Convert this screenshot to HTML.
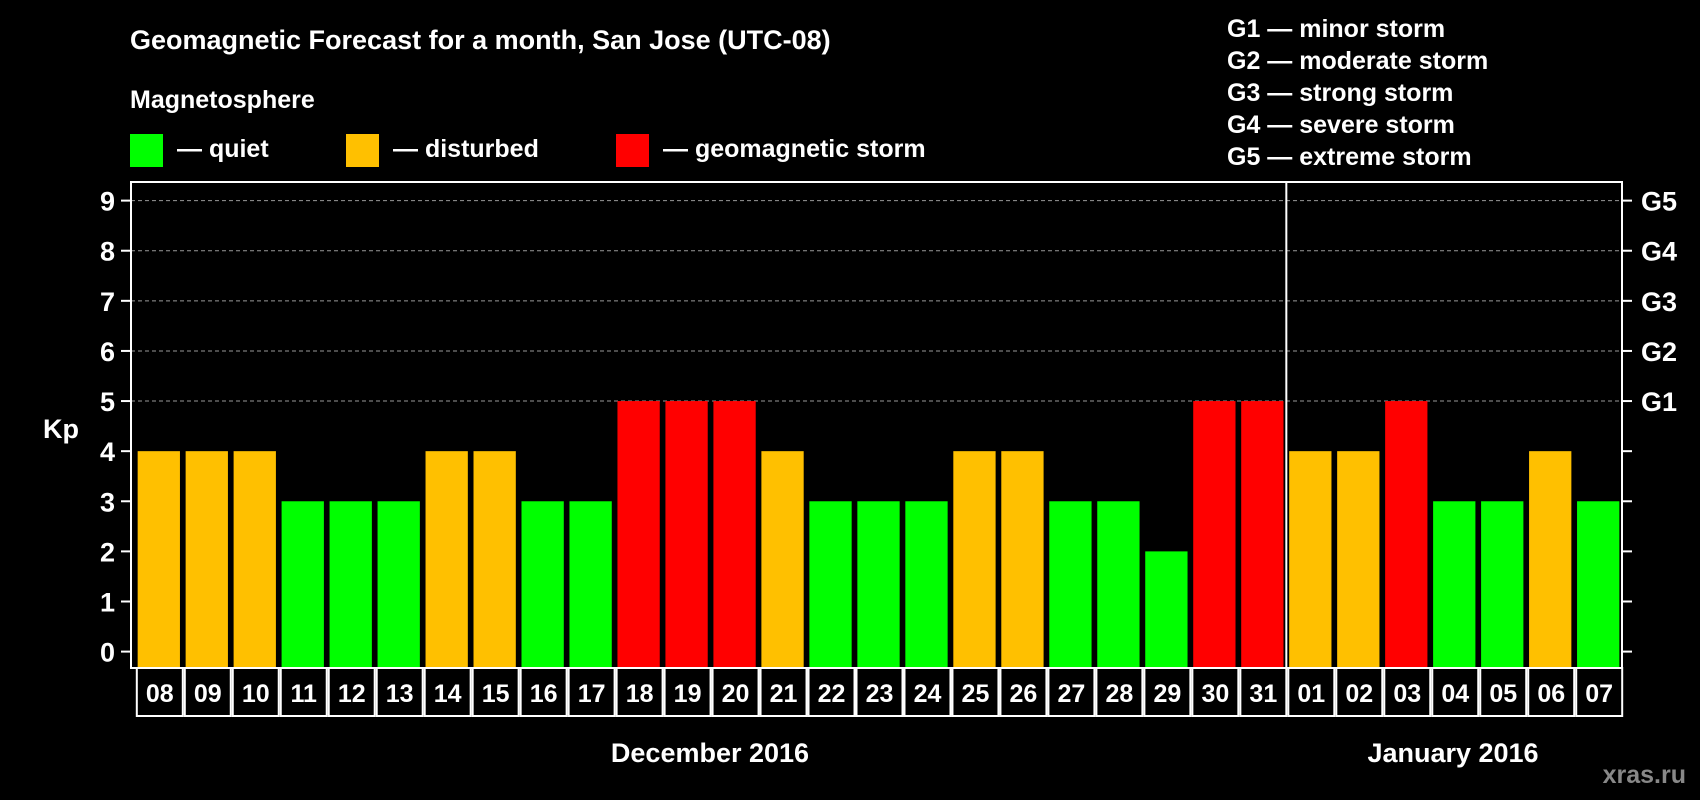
<!DOCTYPE html>
<html><head><meta charset="utf-8"><style>
html,body{margin:0;padding:0;background:#000;}
svg{display:block;font-family:"Liberation Sans",Arial,sans-serif;font-weight:bold;}
</style></head><body>
<svg id="chart" width="1700" height="800" viewBox="0 0 1700 800">
<rect width="1700" height="800" fill="#000"/>
<text x="130" y="49" font-size="27" fill="#fff">Geomagnetic Forecast for a month, San Jose (UTC-08)</text>
<text x="130" y="108" font-size="25" fill="#fff">Magnetosphere</text>
<g><rect x="130" y="134" width="33" height="33" fill="#00ff00"/><text x="177" y="157" font-size="25" fill="#fff">— quiet</text></g>
<g><rect x="346" y="134" width="33" height="33" fill="#ffc000"/><text x="393" y="157" font-size="25" fill="#fff">— disturbed</text></g>
<g><rect x="616" y="134" width="33" height="33" fill="#ff0000"/><text x="663" y="157" font-size="25" fill="#fff">— geomagnetic storm</text></g>
<g font-size="25" fill="#fff">
<text x="1227" y="37">G1 — minor storm</text>
<text x="1227" y="69">G2 — moderate storm</text>
<text x="1227" y="101">G3 — strong storm</text>
<text x="1227" y="133">G4 — severe storm</text>
<text x="1227" y="165">G5 — extreme storm</text>
</g>
<text x="43" y="438" font-size="27" fill="#fff">Kp</text>
<text x="710" y="762" font-size="27" fill="#fff" text-anchor="middle">December 2016</text>
<text x="1453" y="762" font-size="27" fill="#fff" text-anchor="middle">January 2016</text>
<text x="1686" y="783" font-size="25" fill="#888" text-anchor="end">xras.ru</text>
<g id="grid"></g><g id="bars"></g><g id="axes"></g><g id="labels"></g>
</svg>
<script>
const days = ["08","09","10","11","12","13","14","15","16","17","18","19","20","21","22","23","24","25","26","27","28","29","30","31","01","02","03","04","05","06","07"];
const kpValues = [4,4,4,3,3,3,4,4,3,3,5,5,5,4,3,3,3,4,4,3,3,2,5,5,4,4,5,3,3,4,3];
const yTicks = [0,1,2,3,4,5,6,7,8,9];
const gLabels = ["G1","G2","G3","G4","G5"];
const gLevels = [5,6,7,8,9];
const monthSplitIndex = 24;

const NS = "http://www.w3.org/2000/svg";
const L = 131, R = 1622, T = 182, B = 668;
const step = 47.98, x0 = 158.8, bw = 42.3;
function xc(i){ return x0 + i*step; }
function y(v){ return 651.6 - v*50.11; }
function mk(tag, attrs, parent){ const e = document.createElementNS(NS, tag); for (const k in attrs) e.setAttribute(k, attrs[k]); parent.appendChild(e); return e; }
const grid = document.getElementById("grid"), bars = document.getElementById("bars"), axes = document.getElementById("axes"), labels = document.getElementById("labels");

gLevels.forEach(v => {
  const l = mk("line", {x1:L, x2:R, y1:y(v), y2:y(v), stroke:"#999", "stroke-width":1, "stroke-dasharray":"4 3"}, grid);
  
  
});
kpValues.forEach((v, i) => {
  const c = v >= 5 ? "#ff0000" : (v >= 4 ? "#ffc000" : "#00ff00");
  const r = mk("rect", {x:xc(i)-bw/2, y:y(v), width:bw, height:B - y(v), fill:c}, bars);
  
  
});
const frame = mk("rect", {x:L, y:T, width:R-L, height:B-T, fill:"none", stroke:"#fff", "stroke-width":2}, axes);


const sx = (xc(monthSplitIndex-1) + xc(monthSplitIndex)) / 2;
const div = mk("line", {x1:sx, x2:sx, y1:T, y2:B, stroke:"#fff", "stroke-width":2}, axes);


yTicks.forEach(v => {
  mk("line", {x1:L-10, x2:L, y1:y(v), y2:y(v), stroke:"#fff", "stroke-width":2}, axes);
  mk("line", {x1:R, x2:R+10, y1:y(v), y2:y(v), stroke:"#fff", "stroke-width":2}, axes);
  const t = mk("text", {x:L-16, y:y(v)+10, "font-size":27, fill:"#fff", "text-anchor":"end"}, axes);
  t.textContent = v;
  
  
});
gLevels.forEach((v, i) => {
  const t = mk("text", {x:R+19, y:y(v)+10, "font-size":27, fill:"#fff"}, axes);
  t.textContent = gLabels[i];
  
  
});
days.forEach((d, i) => {
  const cell = mk("rect", {x:xc(i)-step/2+2, y:B, width:step-2, height:48, fill:"none", stroke:"#fff", "stroke-width":2}, labels);
  
  
  const t = mk("text", {x:xc(i)+1, y:B+34, "font-size":25, fill:"#fff", "text-anchor":"middle"}, labels);
  t.textContent = d;
  
  
});
</script>
</body></html>
